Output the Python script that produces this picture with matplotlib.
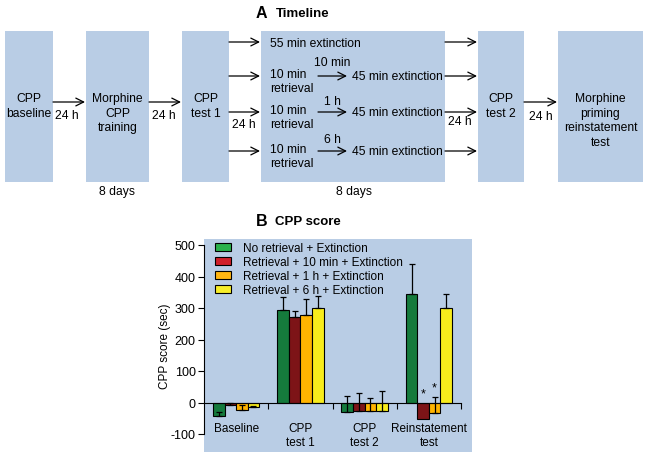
import matplotlib.pyplot as plt
from matplotlib.patches import Rectangle, Patch
import numpy as np

plt.rcParams['font.family'] = ['Liberation Sans', 'DejaVu Sans']
plt.rcParams['axes.unicode_minus'] = False

# panel B data
groups = ['Baseline', 'CPP\ntest 1', 'CPP\ntest 2', 'Reinstatement\ntest']
series_names = ['No retrieval + Extinction', 'Retrieval + 10 min + Extinction',
                'Retrieval + 1 h + Extinction', 'Retrieval + 6 h + Extinction']
no_retrieval = [-44, 295, -31, 343]
no_retrieval_err = [13, 40, 53, 97]
ret_10min = [-9, 271, -28, -51]
ret_10min_err = [9, 21, 59, 0]
ret_1h = [-23, 277, -28, -34]
ret_1h_err = [14, 53, 41, 53]
ret_6h = [-15, 300, -28, 300]
ret_6h_err = [4, 39, 63, 45]
# significance marks: (group index, series index)
stars = [(3, 1), (3, 2)]

bar_colors = ['#157a3c', '#7d1417', '#ffb400', '#f8ec1c']
legend_colors = ['#2bb24c', '#d0202a', '#ffb612', '#f7ee2a']
BLUE = '#b9cde5'
FS = 8.7   # timeline text
FSB = 8.5  # panel B text
LS = 1.3

fig = plt.figure(figsize=(6.49, 4.60), dpi=100)

# overlay in pixel coords for the timeline diagram
lay = fig.add_axes([0, 0, 1, 1])
lay.set_xlim(0, 649)
lay.set_ylim(460, 0)
lay.axis('off')

# A  Timeline
lay.text(256, 14, 'A', fontsize=11.5, weight='bold', va='center')
lay.text(276, 14, 'Timeline', fontsize=9.5, weight='bold', va='center')

boxes = [(5, 53, 'CPP\nbaseline'), (86, 149, 'Morphine\nCPP\ntraining'),
         (182, 229, 'CPP\ntest 1'), (261, 445, None), (478, 524, 'CPP\ntest 2'),
         (558, 643, 'Morphine\npriming\nreinstatement\ntest')]
for x0, x1, label in boxes:
    lay.add_patch(Rectangle((x0, 32), x1 - x0, 151, color=BLUE, lw=0))
    if label:
        lay.text((x0 + x1) / 2, 93, label, ha='center', va='top', fontsize=FS, linespacing=LS)


def arrow(x0, x1, y):
    lay.annotate('', xy=(x1, y), xytext=(x0, y),
                 arrowprops=dict(arrowstyle='->', lw=0.9, color='black',
                                 shrinkA=0, shrinkB=0, mutation_scale=14))


arrow(53, 85, 103)
arrow(149, 181, 103)
arrow(524, 557, 103)
for y in [43, 77, 113, 152]:
    arrow(229, 260, y)
    arrow(445, 477, y)

for x, y in [(67, 116), (164, 116), (244, 125), (460, 122), (541, 117)]:
    lay.text(x, y, '24 h', ha='center', va='center', fontsize=FS)

lay.text(270, 44, '55 min extinction', va='center', fontsize=FS)
for y, delay, dy in [(77, '10 min', 14), (113, '1 h', 11), (152, '6 h', 12)]:
    lay.text(270, y + 5, '10 min\nretrieval', va='center', fontsize=FS, linespacing=LS)
    arrow(318, 347, y)
    lay.text(332, y - dy, delay, ha='center', va='center', fontsize=FS)
    lay.text(352, y, '45 min extinction', va='center', fontsize=FS)

lay.text(117, 192, '8 days', ha='center', va='center', fontsize=FS)
lay.text(354, 192, '8 days', ha='center', va='center', fontsize=FS)

# B  CPP score
lay.text(256, 222, 'B', fontsize=11.5, weight='bold', va='center')
lay.text(275, 222, 'CPP score', fontsize=9.5, weight='bold', va='center')
lay.add_patch(Rectangle((204, 240), 268, 213, color=BLUE, lw=0))

ax = fig.add_axes([204 / 649, 1 - 435 / 460, (461 - 204) / 649, (435 - 246) / 460])
ax.set_facecolor('none')

values = [no_retrieval, ret_10min, ret_1h, ret_6h]
errors = [no_retrieval_err, ret_10min_err, ret_1h_err, ret_6h_err]
centers = np.arange(len(groups)) + 0.5
width = 0.18
for i, (vals, errs) in enumerate(zip(values, errors)):
    xs = centers + (i - 1.5) * width
    ax.bar(xs, vals, width, color=bar_colors[i], edgecolor='black', lw=0.8, zorder=2)
    vals = np.array(vals)
    errs = np.array(errs)
    keep = errs > 0
    ax.errorbar(xs[keep], vals[keep], yerr=[np.zeros(keep.sum()), errs[keep]], fmt='none',
                ecolor='black', elinewidth=0.9, capsize=2, capthick=0.9, zorder=3)

for g, s in stars:
    top = max(0, values[s][g] + errors[s][g])
    ax.text(centers[g] + (s - 1.5) * width, top + 28, '*', ha='center', va='center', fontsize=9)

ax.set_xlim(0, 4)
ax.set_ylim(-100, 500)
ax.set_yticks(range(-100, 501, 100))
ax.tick_params(axis='y', direction='out', length=4, width=0.8, labelsize=9, pad=2)
ax.set_xticks([1, 2, 3, 4])
ax.set_xticklabels([])
ax.set_xticks(centers, minor=True)
ax.set_xticklabels(groups, minor=True)
ax.tick_params(axis='x', which='major', direction='out', length=4, width=0.8)
ax.tick_params(axis='x', which='minor', length=0, pad=14, labelsize=FSB)
for lab in ax.get_xticklabels(minor=True):
    lab.set_linespacing(LS)
ax.spines['top'].set_visible(False)
ax.spines['right'].set_visible(False)
ax.spines['bottom'].set_position(('data', 0))
ax.spines['bottom'].set_linewidth(0.8)
ax.spines['left'].set_linewidth(0.8)
ax.set_ylabel('CPP score (sec)', fontsize=FSB)
ax.yaxis.set_label_coords(-0.13, 0.47)

handles = [Patch(facecolor=c, edgecolor='black', lw=0.8) for c in legend_colors]
ax.legend(handles, series_names, loc='upper left', bbox_to_anchor=(11 / 257, 1.015),
          frameon=False, fontsize=FSB, borderpad=0, borderaxespad=0,
          handlelength=1.35, handleheight=0.7, handletextpad=1.0, labelspacing=0.17)

fig.savefig('out.png', dpi=100)
